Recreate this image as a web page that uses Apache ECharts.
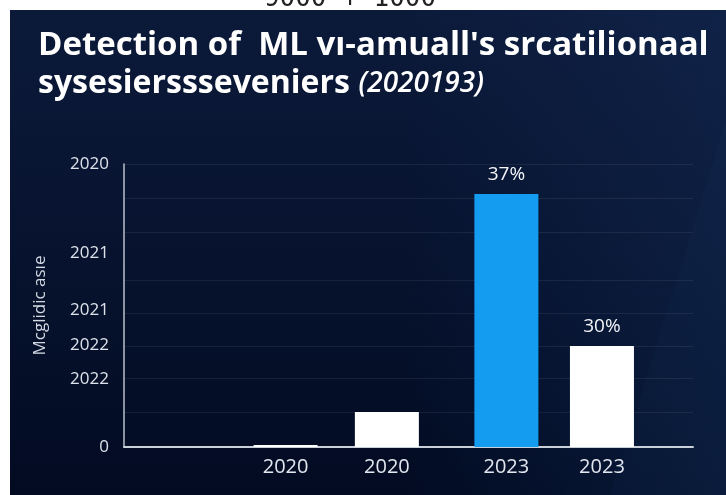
<!DOCTYPE html>
<html><head><meta charset="utf-8">
<script src="https://cdn.jsdelivr.net/npm/echarts@6/dist/echarts.min.js"></script>
<style>html,body{margin:0;padding:0;background:#fff;}#c{width:726px;height:495px;}</style>
</head><body><div id="c"></div>
<script>
// Data
const categories = ['2020', '2020', '2023', '2023'];
const xPositions = [28.4, 46.2, 67.2, 84.0];
const values = [0.7, 12.4, 89.4, 35.7];
const valueLabels = ['', '', '37%', '30%'];
const yTickValues = [0, 24, 36, 48.4, 68.6, 100];
const yTickLabels = ['0', '2022', '2022', '2021', '2021', '2020'];
const yGridValues = [12.4, 24.4, 35.7, 47.3, 59, 76, 88, 100];
const barColors = ['#ffffff', '#ffffff', '#139cf0', '#ffffff'];
const titleLine1 = "Detection of  ML vı-amuall's srcatilionaal";
const titleLine2 = 'sysesierssseveniers';
const titleYears = '(2020193)';
const yAxisName = 'Mcglidic asıe';
const topNote = '9000 + 1000';

function nearestIndex(arr, v) {
  let best = 0;
  for (let i = 1; i < arr.length; i++) if (Math.abs(arr[i] - v) < Math.abs(arr[best] - v)) best = i;
  return best;
}

const chart = echarts.init(document.getElementById('c'), null, {renderer: 'canvas'});
const FONT = 'Open Sans';
chart.setOption({
  backgroundColor: '#ffffff',
  animation: false,
  graphic: [
    {type: 'rect', z: -10, shape: {x: 10, y: 10, width: 716, height: 485},
      style: {fill: new echarts.graphic.LinearGradient(0, 0, 0, 1, [
        {offset: 0, color: '#0c1a3a'}, {offset: 1, color: '#020b22'}])}},
    {type: 'rect', z: -9, shape: {x: 10, y: 10, width: 716, height: 485},
      style: {fill: new echarts.graphic.LinearGradient(0, 0, 1, 0, [
        {offset: 0, color: 'rgba(20,50,100,0)'}, {offset: 0.55, color: 'rgba(20,50,100,0)'},
        {offset: 1, color: 'rgba(22,50,95,0.35)'}])}},
    {type: 'polygon', z: -8, shape: {points: [[726, 120], [726, 495], [610, 495]]},
      style: {fill: 'rgba(40,80,140,0.06)'}},
    {type: 'text', z: 5, style: {text: topNote, x: 350, y: -1, align: 'center', verticalAlign: 'middle',
      font: '26px "DejaVu Sans Mono"', fill: '#222'}}
  ],
  title: {
    text: titleLine1 + '\n{b|' + titleLine2 + '} {i|' + titleYears + '}',
    left: 33, top: 22,
    textStyle: {fontFamily: FONT, fontSize: 33, fontWeight: 'bold', color: '#ffffff', lineHeight: 38,
      rich: {
        b: {fontFamily: FONT, fontSize: 32, fontWeight: 'bold', color: '#ffffff', lineHeight: 38},
        i: {fontFamily: FONT, fontSize: 28, fontWeight: 600, fontStyle: 'italic', color: '#ffffff', lineHeight: 38}
      }}
  },
  grid: {left: 124, right: 33, top: 164, bottom: 48, containLabel: false},
  xAxis: {
    type: 'value', min: 0, max: 100,
    axisLine: {show: true, lineStyle: {color: '#c9d0da', width: 2}},
    axisTick: {show: false},
    splitLine: {show: false},
    axisLabel: {customValues: xPositions, margin: 10, fontFamily: FONT, fontSize: 20, color: '#e2e6ee',
      formatter: v => categories[nearestIndex(xPositions, v)]}
  },
  yAxis: {
    type: 'value', min: 0, max: 100,
    name: yAxisName, nameLocation: 'middle', nameRotate: 90, nameGap: 75,
    nameTextStyle: {fontFamily: FONT, fontSize: 17, color: '#d3d9e3'},
    axisLine: {show: true, lineStyle: {color: '#b9c1cd', width: 1.5}},
    axisTick: {show: false, customValues: yGridValues},
    splitLine: {show: true, lineStyle: {color: 'rgba(255,255,255,0.07)', width: 1}},
    axisLabel: {customValues: yTickValues, margin: 15, fontFamily: FONT, fontSize: 17, color: '#dde2ea',
      formatter: v => yTickLabels[nearestIndex(yTickValues, v)]}
  },
  series: [{
    type: 'bar', barWidth: 64,
    data: xPositions.map((x, i) => ({
      value: [x, values[i]],
      itemStyle: {color: barColors[i]},
      label: {show: valueLabels[i] !== '', formatter: valueLabels[i]}
    })),
    label: {position: 'top', distance: 10, fontFamily: FONT, fontSize: 19, color: '#f2f4f8'}
  }]
});
</script></body></html>
